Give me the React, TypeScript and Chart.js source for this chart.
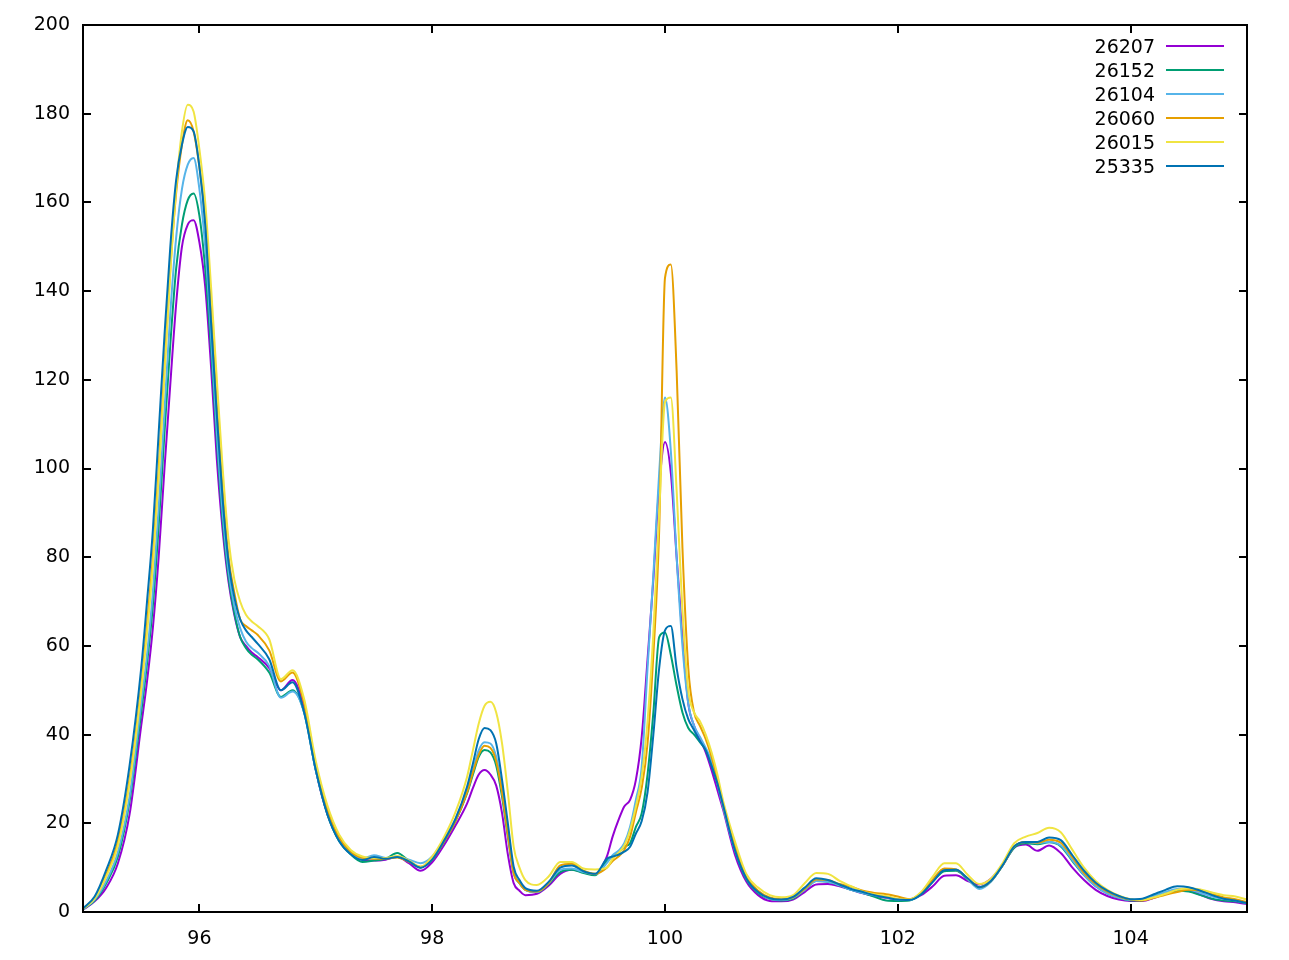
import React, { useEffect, useRef } from "react";
import { Chart, registerables } from "chart.js";

Chart.register(...registerables);

const xValues = [
  95.0, 95.1, 95.2, 95.3, 95.4, 95.5,
  95.55, 95.6, 95.65, 95.7, 95.75, 95.8, 95.85, 95.9, 95.95, 96.0,
  96.05, 96.1, 96.15, 96.2, 96.25, 96.3, 96.35, 96.4, 96.45, 96.5,
  96.6, 96.7, 96.8, 96.9, 97.0, 97.1, 97.2, 97.3, 97.4, 97.5,
  97.6, 97.7, 97.8, 97.9, 98.0, 98.1, 98.2, 98.3, 98.35, 98.4, 98.45, 98.5,
  98.55, 98.6, 98.65, 98.7, 98.75, 98.8, 98.9, 99.0, 99.1, 99.2, 99.3, 99.4, 99.5,
  99.55, 99.6, 99.65, 99.7, 99.75, 99.8, 99.85, 99.9, 99.95, 100.0,
  100.05, 100.1, 100.15, 100.2, 100.25, 100.3, 100.35, 100.4, 100.45, 100.5,
  100.6, 100.7, 100.8, 100.9, 101.0, 101.1, 101.2, 101.3, 101.4, 101.5,
  101.6, 101.7, 101.8, 101.9, 102.0, 102.1, 102.2, 102.3, 102.4, 102.5,
  102.6, 102.7, 102.8, 102.9, 103.0, 103.1, 103.2, 103.3, 103.4, 103.5,
  103.6, 103.7, 103.8, 103.9, 104.0, 104.1, 104.2, 104.3, 104.4, 104.5,
  104.6, 104.7, 104.8, 104.9, 105.0,
];

const s26207 = [
  0.5, 2.4, 5.5, 11, 22, 42,
  52, 64, 80, 100, 119, 137, 150, 155, 156, 151,
  141, 123, 102, 86, 74.5, 67, 62, 60, 58.5, 57.5,
  55, 50, 52.3, 46, 32, 22, 16.2, 13.2, 11.8, 11.6,
  11.8, 12.4, 11, 9.3, 11.2, 15, 19.5, 24.5, 28, 31, 32, 31,
  28.5, 22.3, 13, 6.5, 4.8, 3.8, 4.1, 5.9, 8.6, 9.5, 9, 8.5, 12.5,
  17, 20.7, 23.8, 25.3, 29.8, 39.5, 57, 75, 96, 106,
  99, 80, 62, 47, 42, 39, 36, 32, 27.5, 23,
  13, 6.8, 3.8, 2.5, 2.4, 2.8, 4.5, 6.2, 6.3, 5.8,
  5, 4.2, 3.6, 3.2, 2.8, 2.8, 3.8, 5.8, 8.2, 8.3,
  7, 6.2, 7.5, 10.5, 14.5, 15.2, 13.8, 15, 13.3, 10,
  7.2, 5, 3.6, 2.8, 2.5, 2.5, 3.2, 4.2, 5, 4.8,
  3.9, 2.9, 2.4, 2.2, 1.8,
];

const s26152 = [
  0.6, 2.6, 6.5, 12.5, 25, 45,
  56, 69, 87, 108, 128, 145, 155, 160.5, 162, 157,
  145, 127, 106, 88, 75.5, 67.5, 62, 59.5, 58, 57,
  54, 48.5, 50, 45, 32, 22, 16, 13, 11.3, 11.6,
  12, 13.3, 11.5, 10, 11.8, 15.8, 20.5, 26.8, 31, 35, 36.5, 36,
  33, 26, 17, 8.8, 6.5, 5, 4.5, 6.3, 9, 9.5, 8.8, 8.3, 11.5,
  12.5, 13.3, 14.7, 15.5, 19.2, 22.3, 31, 45, 62, 63,
  58, 51, 45, 41.5, 40, 38.3, 36.5, 33, 29, 24,
  14, 7.3, 4.3, 3, 2.6, 3.0, 5, 7, 6.8, 6,
  5, 4.3, 3.4, 2.6, 2.5, 2.6, 4, 6.8, 9.2, 9.3,
  7.4, 5.6, 7, 10.5, 14.5, 15.5, 15.3, 15.7, 14.8, 11.5,
  8.3, 5.8, 4.2, 3.2, 2.6, 2.6, 3.5, 4.2, 4.8, 4.6,
  3.8, 3, 2.6, 2.4, 2,
];

const s26104 = [
  0.6, 2.8, 7, 13.5, 26, 47,
  58, 72, 91, 113, 135, 152, 163, 168.5, 170, 163,
  150, 130, 108, 90, 77, 69, 64, 61, 59.5, 58.5,
  55.5, 48.3, 49.7, 45, 32, 22.5, 16.3, 13.3, 12, 12.8,
  12.2, 12.5, 11.8, 11, 12.5, 16.3, 21, 27.5, 32, 36.5, 38.3, 38,
  35, 27.5, 18, 8.8, 6.5, 5, 4.5, 6.5, 9.5, 9.8, 9, 8.5, 11,
  12.8, 13.8, 15.5, 19.2, 25.3, 32.8, 55, 76, 99, 116,
  104, 80, 60, 47, 42, 39.5, 37, 34, 29, 23.5,
  14, 7.5, 4.5, 3, 2.7, 3.2, 5, 7, 6.8, 6,
  5, 4.3, 3.8, 3.3, 2.8, 2.7, 4.2, 7.2, 9.7, 9.6,
  7.4, 5.2, 6.8, 10.5, 14.8, 15.8, 15.5, 15.8, 15, 11.7,
  8.3, 5.8, 4.2, 3.2, 2.7, 2.7, 3.6, 4.5, 5.2, 5.1,
  4.3, 3.5, 2.9, 2.6, 2,
];

const s26060 = [
  0.7, 3.2, 8.5, 16, 30, 51,
  65, 80, 100, 123, 145, 162, 173, 178.5, 176, 168,
  156, 136, 114, 95, 80, 72, 66, 64.5, 63.5, 62.5,
  59, 52, 54, 47, 33, 23, 16.8, 13.6, 12.2, 12,
  12, 12.3, 11.3, 10.2, 11.8, 15.8, 20.5, 27, 31.5, 35.5, 37.5, 37,
  34, 27, 17.5, 8.8, 6.5, 5, 4.6, 6.5, 10.5, 10.9, 9.3, 8.6, 10,
  11.5, 12.5, 14, 17, 22.5, 28, 38, 58, 86, 143,
  146, 122, 82, 55, 45, 42, 39, 35, 30, 24,
  15, 8, 4.8, 3.3, 2.9, 3.3, 5.2, 7.3, 7.2, 6.3,
  5.7, 4.8, 4.3, 4, 3.5, 2.9, 4.3, 7.3, 9.8, 9.6,
  7.6, 5.6, 7, 10.5, 14.8, 15.8, 15.6, 16.3, 15.6, 12.3,
  8.8, 6.3, 4.6, 3.5, 2.8, 2.6, 3.2, 3.9, 4.5, 5,
  4.8, 4, 3.3, 2.9, 2.2,
];

const s26015 = [
  0.7, 3.0, 8.0, 15, 29, 50,
  63, 78, 98, 121, 144, 163, 176, 182, 180.5, 172,
  160, 141, 120, 100, 84, 75, 70, 67, 65.5, 64.5,
  61.5, 52.5, 54.5, 48, 34, 24, 17.5, 14, 12.5, 12.2,
  12.2, 12.6, 11.6, 10.2, 12.5, 16.8, 22.5, 30.5, 36.5, 42.5, 46.5, 47.4,
  45, 38, 27, 14.7, 10, 7.2, 6.1, 8, 11.3, 11.3, 9.8, 9.6, 10,
  12, 13.3, 15, 18.5, 23.8, 30.5, 43, 63, 90, 115,
  116, 95, 68, 50, 45, 43, 40, 36, 31, 25,
  16, 8.5, 5.5, 3.8, 3.3, 3.8, 6.5, 8.8, 8.6, 7,
  5.8, 4.6, 4, 3.6, 3, 2.8, 4.5, 8, 11, 11,
  8.4, 6.3, 7.5, 11, 15.5, 17, 17.8, 19, 18, 14,
  10, 7, 5, 3.7, 2.9, 2.7, 3.3, 4.1, 5.0, 5.3,
  5.1, 4.4, 3.8, 3.5, 2.8,
];

const s25335 = [
  0.8, 3.5, 9.5, 17.5, 33, 55,
  70, 86, 108, 130, 150, 165, 173, 177, 176, 168,
  155, 133, 112, 93, 79, 71, 66, 63.5, 62, 60.5,
  57, 50, 51.8, 45, 32, 22, 16, 13, 11.7, 12.4,
  12, 12.4, 11.4, 10, 11.8, 16, 21, 28.3, 33.5, 39, 41.5, 41,
  38, 29.8, 20, 10.2, 7.2, 5.4, 4.8, 6.8, 10, 10.5, 9.2, 8.6, 12,
  12.5, 12.9, 13.6, 14.7, 17.7, 20.5, 27, 40, 55, 63.5,
  64.5, 55, 48, 43.5, 41, 38.5, 36.5, 33, 29, 24,
  14, 7.5, 4.5, 3.1, 2.8, 3.4, 5.5, 7.6, 7.2, 6.2,
  5.2, 4.5, 3.8, 3.3, 2.8, 2.7, 4, 6.8, 9.4, 9.5,
  7.6, 5.6, 7, 10.5, 14.8, 15.8, 15.8, 16.8, 16.2, 12.8,
  9.3, 6.6, 4.8, 3.6, 2.9, 3, 4, 5, 5.8, 5.6,
  4.8, 3.8, 3, 2.6, 2,
];

const seriesLabels = ["26207", "26152", "26104", "26060", "26015", "25335"];
const seriesValues = [s26207, s26152, s26104, s26060, s26015, s25335];
const seriesColors = ["#9400d3", "#009e73", "#56b4e9", "#e69f00", "#f0e442", "#0072b2"];

const xTicks = [96, 98, 100, 102, 104];
const yTicks = [0, 20, 40, 60, 80, 100, 120, 140, 160, 180, 200];

const FONT = '"DejaVu Sans", "Liberation Sans", sans-serif';

const framePlugin = {
  id: "gnuFrame",
  afterDatasetsDraw(chart: any) {
    const { ctx, chartArea: a, scales } = chart;
    ctx.save();
    ctx.strokeStyle = "#000";
    ctx.lineWidth = 2;
    ctx.beginPath();
    xTicks.forEach((v) => {
      const px = Math.round(scales.x.getPixelForValue(v));
      ctx.moveTo(px, a.bottom);
      ctx.lineTo(px, a.bottom - 8);
      ctx.moveTo(px, a.top);
      ctx.lineTo(px, a.top + 8);
    });
    yTicks.forEach((v) => {
      const py = Math.round(scales.y.getPixelForValue(v));
      ctx.moveTo(a.left, py);
      ctx.lineTo(a.left + 8, py);
      ctx.moveTo(a.right, py);
      ctx.lineTo(a.right - 8, py);
    });
    ctx.stroke();
    ctx.strokeRect(a.left, a.top, a.right - a.left, a.bottom - a.top);

    ctx.font = "19px " + FONT;
    ctx.textAlign = "right";
    ctx.textBaseline = "middle";
    chart.data.datasets.forEach((ds: any, i: number) => {
      const y = a.top + 21 + i * 24;
      ctx.fillStyle = "#000";
      ctx.fillText(ds.label, a.right - 92, y + 2);
      ctx.strokeStyle = ds.borderColor;
      ctx.lineWidth = 2;
      ctx.beginPath();
      ctx.moveTo(a.right - 81, y);
      ctx.lineTo(a.right - 23, y);
      ctx.stroke();
    });
    ctx.restore();
  },
};

export default function App() {
  const ref = useRef<HTMLCanvasElement | null>(null);

  useEffect(() => {
    if (!ref.current) return;
    const datasets = seriesLabels.map((label, si) => ({
      label,
      data: xValues.map((x, i) => ({ x, y: seriesValues[si][i] })),
      borderColor: seriesColors[si],
      backgroundColor: seriesColors[si],
      borderWidth: 2,
      pointRadius: 0,
      fill: false,
      cubicInterpolationMode: "monotone" as const,
      order: seriesLabels.length - si,
    }));

    const chart = new Chart(ref.current, {
      type: "line",
      data: { datasets },
      plugins: [framePlugin],
      options: {
        animation: false,
        responsive: false,
        maintainAspectRatio: false,
        devicePixelRatio: 1,
        layout: { padding: { top: 25, right: 42, left: 0, bottom: 0 } },
        plugins: {
          legend: { display: false },
          tooltip: { enabled: false },
        },
        scales: {
          x: {
            type: "linear",
            min: 95,
            max: 105,
            grid: { display: false, drawTicks: false },
            border: { display: false },
            afterBuildTicks: (scale: any) => {
              scale.ticks = xTicks.map((v) => ({ value: v }));
            },
            afterFit: (scale: any) => {
              scale.height = 48;
            },
            ticks: {
              color: "#000",
              font: { family: FONT, size: 19 },
              padding: 16,
              maxRotation: 0,
              callback: (v: any) => String(v),
            },
          },
          y: {
            type: "linear",
            min: 0,
            max: 200,
            grid: { display: false, drawTicks: false },
            border: { display: false },
            afterBuildTicks: (scale: any) => {
              scale.ticks = yTicks.map((v) => ({ value: v }));
            },
            afterFit: (scale: any) => {
              scale.width = 83;
            },
            ticks: {
              color: "#000",
              font: { family: FONT, size: 19 },
              padding: 13,
              callback: (v: any) => String(v),
            },
          },
        },
      },
    });
    return () => chart.destroy();
  }, []);

  return (
    <div style={{ position: "absolute", left: 0, top: 0, width: 1289, height: 960, background: "#fff" }}>
      <canvas ref={ref} width={1289} height={960} style={{ width: 1289, height: 960, display: "block" }} />
    </div>
  );
}
